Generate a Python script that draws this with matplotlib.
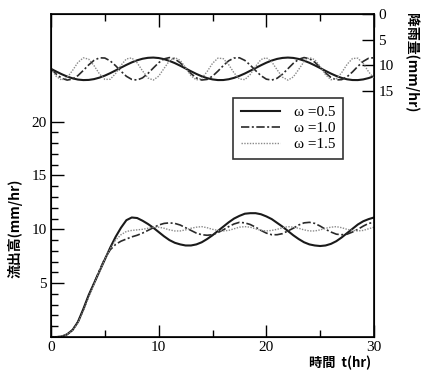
import matplotlib
matplotlib.use("Agg")
import matplotlib.pyplot as plt
import numpy as np

# time axis (hr)
t = [i * 0.5 for i in range(61)]

# outflow (mm/hr)
q_w05 = [0, 0, 0.05, 0.25, 0.65, 1.4, 2.6, 3.9, 5.0, 6.1, 7.2, 8.3, 9.3, 10.15, 10.85, 11.1,
         11.05, 10.8, 10.5, 10.15, 9.75, 9.35, 9.0, 8.75, 8.6, 8.5, 8.5, 8.6, 8.8, 9.1, 9.45,
         9.85, 10.25, 10.65, 11.0, 11.25, 11.45, 11.5, 11.5, 11.4, 11.2, 10.95, 10.6, 10.25,
         9.85, 9.45, 9.1, 8.8, 8.6, 8.5, 8.45, 8.5, 8.65, 8.9, 9.25, 9.65, 10.05, 10.45,
         10.75, 10.95, 11.1]
q_w10 = [0, 0, 0.05, 0.25, 0.65, 1.4, 2.5, 3.8, 5.0, 6.2, 7.3, 8.1, 8.6, 8.9, 9.1, 9.3,
         9.45, 9.65, 9.9, 10.15, 10.4, 10.55, 10.6, 10.55, 10.4, 10.15, 9.9, 9.65, 9.5, 9.45,
         9.5, 9.7, 9.95, 10.25, 10.5, 10.65, 10.6, 10.45, 10.2, 9.9, 9.65, 9.5, 9.5, 9.6,
         9.85, 10.1, 10.4, 10.6, 10.65, 10.55, 10.3, 10.0, 9.75, 9.55, 9.5, 9.55, 9.75, 10.0,
         10.3, 10.55, 10.65]
q_w15 = [0, 0, 0.05, 0.25, 0.6, 1.3, 2.4, 3.7, 4.9, 6.1, 7.2, 8.2, 9.0, 9.5, 9.8, 9.9,
         9.95, 10.0, 10.1, 10.2, 10.2, 10.1, 9.95, 9.85, 9.85, 9.95, 10.1, 10.2, 10.25, 10.15,
         10.0, 9.9, 9.85, 9.9, 10.05, 10.2, 10.25, 10.2, 10.05, 9.9, 9.85, 9.9, 10.0, 10.15,
         10.25, 10.2, 10.1, 9.95, 9.85, 9.85, 9.95, 10.1, 10.2, 10.25, 10.15, 10.0, 9.9, 9.85,
         9.9, 10.05, 10.2]

# rainfall (mm/hr)
r_w05 = [10.70, 11.24, 11.75, 12.20, 12.55, 12.79, 12.89, 12.86, 12.70, 12.41, 12.02, 11.54,
         11.01, 10.46, 9.93, 9.44, 9.03, 8.73, 8.55, 8.50, 8.59, 8.81, 9.15, 9.58, 10.09,
         10.63, 11.17, 11.69, 12.15, 12.51, 12.76, 12.89, 12.88, 12.73, 12.46, 12.07, 11.61,
         11.08, 10.54, 10.00, 9.50, 9.08, 8.76, 8.57, 8.50, 8.57, 8.77, 9.10, 9.52, 10.02,
         10.55, 11.10, 11.62, 12.09, 12.47, 12.74, 12.88, 12.89, 12.76, 12.50, 12.13]
r_w10 = [10.70, 11.75, 12.55, 12.89, 12.70, 12.02, 11.01, 9.93, 9.03, 8.55, 8.59, 9.15, 10.09,
         11.17, 12.15, 12.76, 12.88, 12.46, 11.61, 10.54, 9.50, 8.76, 8.50, 8.77, 9.52, 10.55,
         11.62, 12.47, 12.88, 12.76, 12.13, 11.15, 10.07, 9.13, 8.59, 8.54, 9.05, 9.96, 11.03,
         12.03, 12.71, 12.89, 12.54, 11.74, 10.68, 9.63, 8.84, 8.50, 8.71, 9.40, 10.41, 11.49,
         12.38, 12.86, 12.80, 12.24, 11.30, 10.21, 9.24, 8.63, 8.53]
r_w15 = [10.70, 12.20, 12.89, 12.41, 11.01, 9.44, 8.55, 8.81, 10.09, 11.69, 12.76, 12.73,
         11.61, 10.00, 8.76, 8.57, 9.52, 11.10, 12.47, 12.89, 12.13, 10.61, 9.13, 8.50, 9.05,
         10.48, 12.03, 12.87, 12.54, 11.23, 9.63, 8.61, 8.71, 9.88, 11.49, 12.68, 12.80, 11.80,
         10.21, 8.88, 8.53, 9.34, 10.88, 12.33, 12.90, 12.29, 10.83, 9.29, 8.52, 8.91, 10.26,
         11.85, 12.82, 12.65, 11.43, 9.82, 8.68, 8.62, 9.68, 11.28, 12.57]

labels = ["ω =0.5", "ω =1.0", "ω =1.5"]
x_ticks = [0, 10, 20, 30]
y_ticks = [5, 10, 15, 20]
r_ticks = [0, 5, 10, 15]

serif = ["Liberation Serif", "DejaVu Serif"]
cjk = ["Noto Sans CJK JP", "DejaVu Sans"]

fig = plt.figure(figsize=(4.23, 3.73), dpi=100)
ax = fig.add_axes([0.1206, 0.0965, 0.7636, 0.866])

styles = [
    dict(color="#1a1a1a", lw=1.5, ls="-"),
    dict(color="#2a2a2a", lw=1.2, ls=(0, (5, 1.5, 1.2, 1.5))),
    dict(color="#8a8a8a", lw=1.0, ls=(0, (1, 1))),
]
for q, lab, st in zip([q_w05, q_w10, q_w15], labels, styles):
    ax.plot(t, q, label=lab, **st)

ax.set_xlim(0, 30)
ax.set_ylim(0, 30)
ax.set_xticks(x_ticks)
ax.set_xticks([5, 15, 25], minor=True)
ax.set_yticks(y_ticks)
ax.set_yticks([v for v in range(1, 20) if v % 5 != 0], minor=True)
ax.tick_params(axis="both", which="major", direction="in", length=9, width=1.0,
               labelsize=11, pad=3)
ax.tick_params(axis="both", which="minor", direction="in", length=5, width=1.0)
ax.tick_params(axis="x", which="both", top=True)
for lab in ax.get_xticklabels() + ax.get_yticklabels():
    lab.set_fontfamily(serif)
for s in ax.spines.values():
    s.set_linewidth(1.2)

ax2 = ax.twinx()
for r, st in zip([r_w05, r_w10, r_w15], styles):
    ax2.plot(t, r, **st)
ax2.set_ylim(63, 0)
ax2.set_yticks(r_ticks)
ax2.tick_params(axis="y", direction="in", length=9, width=1.0, labelsize=11, pad=3)
for lab in ax2.get_yticklabels():
    lab.set_fontfamily(serif)

leg = ax.legend(loc="upper left", bbox_to_anchor=(0.563, 0.74), borderaxespad=0,
                frameon=True, fancybox=False, handlelength=2.6, handletextpad=0.9,
                labelspacing=0.15, borderpad=0.5, prop={"family": serif, "size": 11})
leg.get_frame().set_edgecolor("black")
leg.get_frame().set_linewidth(1.2)

ax.text(-0.11, 0.337, "流出高(mm/hr)", transform=ax.transAxes, rotation=90,
        ha="center", va="center", fontsize=10, fontweight="bold", family=cjk)
ax.text(1.115, 0.85, "降雨量(mm/hr)", transform=ax.transAxes, rotation=270,
        ha="center", va="center", fontsize=10, fontweight="bold", family=cjk)
ax.text(0.895, -0.08, "時間  t(hr)", transform=ax.transAxes,
        ha="center", va="center", fontsize=9.5, fontweight="bold", family=cjk)

fig.savefig("out.png", dpi=100)
